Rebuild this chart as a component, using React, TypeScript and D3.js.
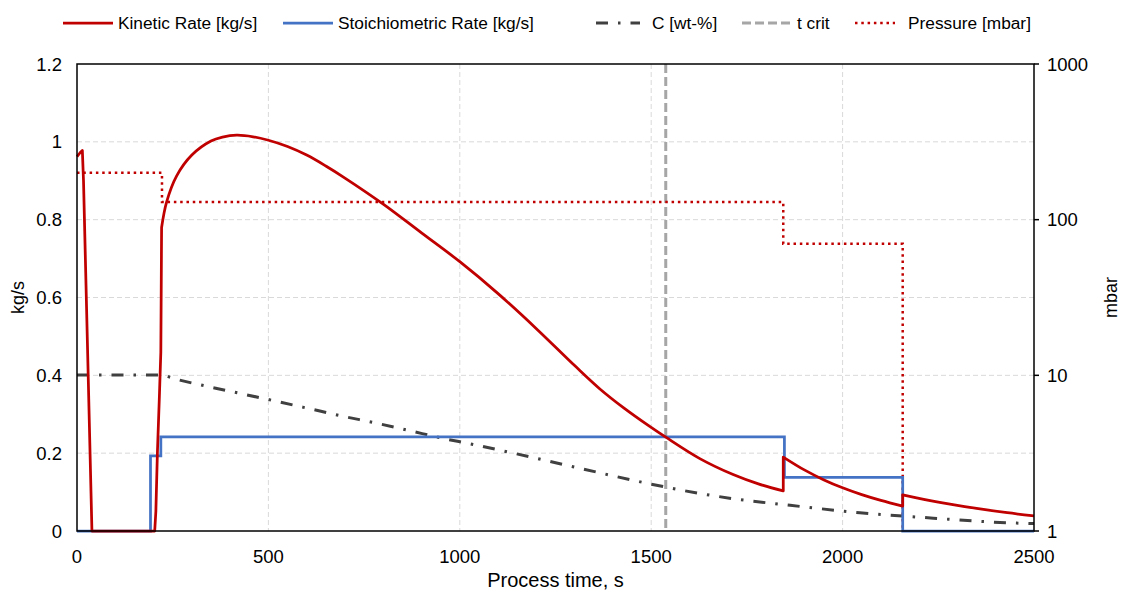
import React from "react";
import * as d3 from "d3";

type P = [number, number];

// ---- data ----
const xTicks = [0, 500, 1000, 1500, 2000, 2500];
const yLeftTicks = [0, 0.2, 0.4, 0.6, 0.8, 1, 1.2];
const yRightTicks = [1, 10, 100, 1000];
const tCrit = 1538;

// Kinetic rate [kg/s] pieces
const kineticStart: P[] = [[0, 0.962], [8, 0.972], [14, 0.978], [17, 0.9], [39, 0], [203, 0]];
const kineticRise: P[] = [[203, 0], [206, 0.05], [210, 0.2], [215, 0.34], [219, 0.46], [221, 0.78]];
const kineticMain: P[] = [
  [221, 0.78], [234, 0.845], [260, 0.912], [300, 0.966], [350, 1.002], [380, 1.012], [417, 1.017],
  [460, 1.013], [500, 1.004], [550, 0.988], [600, 0.966], [650, 0.938], [700, 0.907], [800, 0.84],
  [900, 0.766], [1000, 0.692], [1100, 0.61], [1200, 0.52], [1300, 0.425], [1366, 0.365],
  [1430, 0.315], [1497, 0.268], [1538, 0.241], [1627, 0.186], [1714, 0.145], [1780, 0.121],
  [1845, 0.103],
];
const kineticMid: P[] = [[1845, 0.19], [1900, 0.157], [1950, 0.132], [2000, 0.111], [2050, 0.0934], [2100, 0.0786], [2157, 0.064]];
const kineticEnd: P[] = [[2157, 0.093], [2250, 0.074], [2350, 0.058], [2430, 0.047], [2500, 0.039]];

// Stoichiometric rate [kg/s]
const stoich: P[] = [
  [0, 0], [192, 0], [192, 0.193], [219, 0.193], [219, 0.242], [1848, 0.242],
  [1848, 0.138], [2157, 0.138], [2157, 0], [2500, 0],
];

// C [wt-%] (plotted on left axis scale)
const carbon: P[] = [
  [0, 0.401], [225, 0.401], [243, 0.395], [334, 0.373], [424, 0.354], [513, 0.335], [604, 0.315],
  [694, 0.295], [783, 0.277], [872, 0.257], [961, 0.237], [1027, 0.224], [1140, 0.2], [1323, 0.159],
  [1497, 0.121], [1584, 0.104], [1714, 0.083], [1863, 0.066], [2045, 0.047], [2237, 0.033],
  [2411, 0.022], [2500, 0.019],
];

// Pressure [mbar] (right log axis)
const pressure: P[] = [
  [0, 200], [222, 200], [222, 130], [1845, 130], [1845, 70], [2157, 70], [2157, 1],
];

const legendItems = [
  { label: "Kinetic Rate [kg/s]", kind: "kinetic" },
  { label: "Stoichiometric Rate [kg/s]", kind: "stoich" },
  { label: "C [wt-%]", kind: "carbon" },
  { label: "t crit", kind: "tcrit" },
  { label: "Pressure [mbar]", kind: "pressure" },
];

const RED = "#C00000";
const BLUE = "#4472C4";
const DARK = "#404040";
const GRAY = "#A6A6A6";
const GRID = "#D9D9D9";
const FONT = "'Liberation Sans', Arial, sans-serif";

const styles: Record<string, any> = {
  kinetic: { stroke: RED, strokeWidth: 2.75 },
  stoich: { stroke: BLUE, strokeWidth: 2.75 },
  carbon: { stroke: DARK, strokeWidth: 3, strokeDasharray: "12 10 2.5 10" },
  tcrit: { stroke: GRAY, strokeWidth: 3, strokeDasharray: "9 4" },
  pressure: { stroke: RED, strokeWidth: 2.5, strokeDasharray: "2.5 3.8" },
};

export default function App() {
  const W = 1121, H = 590;
  const L = 77, R = 1034, T = 64, B = 531;
  const x = d3.scaleLinear().domain([0, 2500]).range([L, R]);
  const y = d3.scaleLinear().domain([0, 1.2]).range([B, T]);
  const y2 = d3.scaleLog().domain([1, 1000]).range([B, T]);

  const smooth = d3.line<P>().x(d => x(d[0])).y(d => y(d[1])).curve(d3.curveCatmullRom.alpha(0.5));
  const mono = d3.line<P>().x(d => x(d[0])).y(d => y(d[1])).curve(d3.curveMonotoneX);
  const lin = d3.line<P>().x(d => x(d[0])).y(d => y(d[1]));
  const linP = d3.line<P>().x(d => x(d[0])).y(d => y2(d[1]));

  const kineticPath =
    lin(kineticStart)! +
    lin(kineticRise)!.replace(/^M/, "L") +
    smooth(kineticMain)!.replace(/^M/, "L") +
    smooth(kineticMid)!.replace(/^M/, "L") +
    smooth(kineticEnd)!.replace(/^M/, "L");

  const legendX = [63, 283, 596, 742, 855];
  const legendLen = [50, 50, 44, 51, 40];
  const legendTextX = [118, 338, 652, 797, 908];

  return (
    <svg width={W} height={H} style={{ position: "absolute", left: 0, top: 0, background: "#fff" }} fontFamily={FONT}>
      <rect x={0} y={0} width={W} height={H} fill="#fff" />
      {/* grid */}
      {yLeftTicks.filter(v => v > 0 && v < 1.2).map(v => (
        <line key={"gy" + v} x1={L} x2={R} y1={y(v)} y2={y(v)} stroke={GRID} strokeWidth={1} strokeDasharray="5 3" />
      ))}
      {xTicks.filter(v => v > 0 && v < 2500).map(v => (
        <line key={"gx" + v} x1={x(v)} x2={x(v)} y1={T} y2={B} stroke={GRID} strokeWidth={1} strokeDasharray="5 3" />
      ))}

      {/* series */}
      <path d={mono(carbon)!} fill="none" {...styles.carbon} />
      <line x1={x(tCrit)} x2={x(tCrit)} y1={T} y2={B} {...styles.tcrit} />
      <path d={linP(pressure)!} fill="none" {...styles.pressure} />
      <path d={lin(stoich)!} fill="none" {...styles.stoich} strokeLinejoin="miter" />
      <path d={kineticPath} fill="none" {...styles.kinetic} strokeLinejoin="round" />

      {/* frame */}
      <rect x={L} y={T} width={R - L} height={B - T} fill="none" stroke="#000" strokeWidth={1.5} />
      {yRightTicks.map(v => (
        <line key={"rt" + v} x1={R} x2={R + 5} y1={y2(v)} y2={y2(v)} stroke="#000" strokeWidth={1.5} />
      ))}

      {/* tick labels */}
      {yLeftTicks.map(v => (
        <text key={"yl" + v} x={62} y={y(v) + 6.5} textAnchor="end" fontSize={18.5} fill="#000">{d3.format("~g")(v)}</text>
      ))}
      {yRightTicks.map(v => (
        <text key={"yr" + v} x={1047} y={y2(v) + 6.5} textAnchor="start" fontSize={18.5} fill="#000">{v}</text>
      ))}
      {xTicks.map(v => (
        <text key={"xt" + v} x={x(v)} y={563} textAnchor="middle" fontSize={18.5} fill="#000">{v}</text>
      ))}

      {/* axis titles */}
      <text x={(L + R) / 2} y={587} textAnchor="middle" fontSize={20} fill="#000">Process time, s</text>
      <text transform={`translate(24,${(T + B) / 2}) rotate(-90)`} textAnchor="middle" fontSize={18} fill="#000">kg/s</text>
      <text transform={`translate(1117,${(T + B) / 2}) rotate(-90)`} textAnchor="middle" fontSize={18} fill="#000">mbar</text>

      {/* legend */}
      {legendItems.map((it, i) => (
        <g key={it.kind}>
          <line x1={legendX[i]} x2={legendX[i] + legendLen[i]} y1={23} y2={23} {...styles[it.kind]} />
          <text x={legendTextX[i]} y={29} fontSize={17.3} fill="#000">{it.label}</text>
        </g>
      ))}
    </svg>
  );
}
